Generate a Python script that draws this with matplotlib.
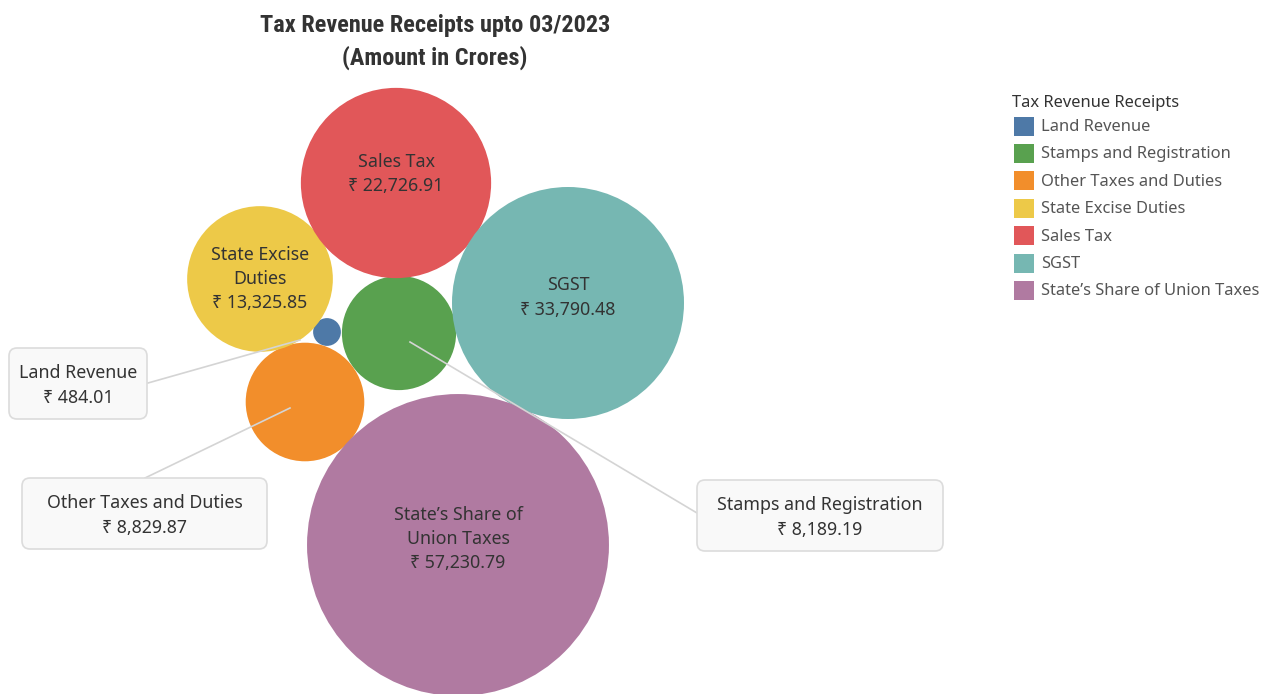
import numpy as np
import matplotlib.pyplot as plt
from matplotlib.patches import Circle, FancyBboxPatch, Rectangle

# data
categories = ["Land Revenue", "Stamps and Registration", "Other Taxes and Duties",
              "State Excise Duties", "Sales Tax", "SGST", "State\u2019s Share of Union Taxes"]
values = [484.01, 8189.19, 8829.87, 13325.85, 22726.91, 33790.48, 57230.79]
bubble_text = ["Land Revenue", "Stamps and Registration", "Other Taxes and Duties",
               "State Excise\nDuties", "Sales Tax", "SGST", "State\u2019s Share of\nUnion Taxes"]
colors = ["#4e79a7", "#59a14f", "#f28e2b", "#edc948", "#e15759", "#76b7b2", "#b07aa1"]

# layout (pixel coords, y down)
centers = [(327, 332), (399, 333), (305, 402), (260, 279), (396, 183), (568, 303), (458, 545)]
label_dy = [None, None, None, 0, -9, -5.5, -6]   # None -> callout box
callouts = {
    0: dict(box=(9, 348, 138, 71), line=((300, 340), (148, 383))),
    1: dict(box=(697, 480, 246, 71), line=((410, 342), (697, 513))),
    2: dict(box=(22, 478, 245, 71), line=((290, 408), (145, 478))),
}

body = ['Noto Sans', 'DejaVu Sans']
txt_col = "#333333"
fs = 12.8
ls = 1.45

fig = plt.figure(figsize=(12.79, 6.94), dpi=100)
ax = fig.add_axes([0, 0, 1, 1])
ax.set_xlim(0, 1279)
ax.set_ylim(694, 0)
ax.axis('off')

k = 116 / np.sqrt(max(values[5], 1))
for i, v in enumerate(values):
    cx, cy = centers[i]
    ax.add_patch(Circle((cx, cy), k*np.sqrt(v), facecolor=colors[i], edgecolor='none', zorder=2))
    if label_dy[i] is not None:
        ax.text(cx, cy + label_dy[i], f"{bubble_text[i]}\n\u20b9 {v:,.2f}", ha='center', va='center',
                fontsize=fs, color=txt_col, family=body, linespacing=ls, zorder=4)

for i, c in callouts.items():
    (x1, y1), (x2, y2) = c['line']
    ax.plot([x1, x2], [y1, y2], color="#d4d4d4", lw=1.2, zorder=3)
    bx, by, bw, bh = c['box']
    ax.add_patch(FancyBboxPatch((bx, by), bw, bh, boxstyle="round,pad=0,rounding_size=8",
                                facecolor="#f9f9f9", edgecolor="#dcdcdc", lw=1.2, zorder=5))
    ax.text(bx + bw/2, by + bh/2 + 2, f"{bubble_text[i]}\n\u20b9 {values[i]:,.2f}", ha='center',
            va='center', fontsize=fs, color=txt_col, family=body, linespacing=ls, zorder=6)

# title
ax.text(435, 42, "Tax Revenue Receipts upto 03/2023\n(Amount in Crores)", ha='center', va='center',
        fontsize=17.5, fontweight='bold', color="#333333", linespacing=1.4,
        family=['Roboto Condensed', 'DejaVu Sans'])

# legend
ax.text(1012, 103, "Tax Revenue Receipts", ha='left', va='center', fontsize=11.9,
        color=txt_col, family=body)
for j, name in enumerate(categories):
    y = 126 + j*27.4
    ax.add_patch(Rectangle((1014, y - 9.5), 20, 19, facecolor=colors[j], edgecolor='none'))
    ax.text(1041, y + 1, name, ha='left', va='center', fontsize=11.9, color="#555555", family=body)

fig.savefig("out.png", dpi=100)
